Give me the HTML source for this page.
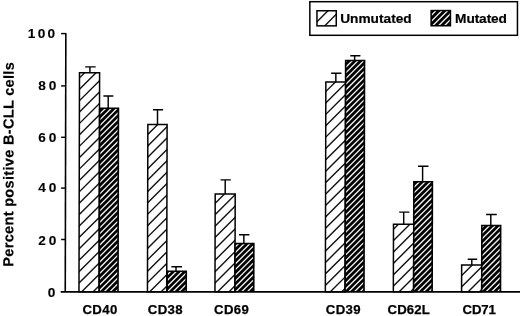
<!DOCTYPE html>
<html><head><meta charset="utf-8"><title>Percent positive B-CLL cells</title>
<style>
html,body{margin:0;padding:0;background:#fff;width:520px;height:316px;overflow:hidden}
svg{display:block;will-change:transform;filter:grayscale(1) blur(0.35px)}
text{font-family:"Liberation Sans",Arial,Helvetica,sans-serif;font-weight:bold;fill:#000}
.tk{font-size:12.4px;letter-spacing:2.6px;stroke:#000;stroke-width:0.1px}
.xl{font-size:13.2px;letter-spacing:0.35px;stroke:#000;stroke-width:0.25px}
.yl{font-size:14.5px;letter-spacing:0.33px;stroke:#000;stroke-width:0.2px}
.lg{font-size:13.7px;letter-spacing:0px;stroke:#000;stroke-width:0.2px}
</style></head><body>
<svg width="520" height="316" viewBox="0 0 520 316">
<defs>
<clipPath id="cCD40U"><rect x="79.50" y="72.65" width="20.10" height="219.20"/></clipPath>
<clipPath id="cCD40M"><rect x="100.45" y="109.05" width="17.15" height="182.00"/></clipPath>
<clipPath id="cCD38U"><rect x="147.85" y="124.50" width="19.25" height="167.35"/></clipPath>
<clipPath id="cCD38M"><rect x="167.95" y="272.00" width="17.45" height="19.05"/></clipPath>
<clipPath id="cCD69U"><rect x="215.20" y="194.05" width="20.00" height="97.80"/></clipPath>
<clipPath id="cCD69M"><rect x="235.85" y="244.35" width="17.15" height="46.70"/></clipPath>
<clipPath id="cCD39U"><rect x="325.85" y="82.10" width="19.75" height="209.75"/></clipPath>
<clipPath id="cCD39M"><rect x="346.45" y="61.25" width="17.25" height="229.80"/></clipPath>
<clipPath id="cCD62U"><rect x="393.50" y="224.35" width="20.30" height="67.50"/></clipPath>
<clipPath id="cCD62M"><rect x="414.65" y="182.40" width="16.90" height="108.65"/></clipPath>
<clipPath id="cCD71U"><rect x="461.65" y="264.90" width="20.15" height="26.95"/></clipPath>
<clipPath id="cCD71M"><rect x="482.65" y="226.20" width="17.15" height="64.85"/></clipPath>
<clipPath id="cLU"><rect x="316.95" y="10.75" width="19.3" height="15.1"/></clipPath>
<clipPath id="cLM"><rect x="431.9" y="11.2" width="17.8" height="13.8"/></clipPath>
</defs>
<rect width="520" height="316" fill="#fff"/>
<g transform="matrix(1 0 -0.0024 1 0.174 0)">
<rect x="79.50" y="72.65" width="20.10" height="219.20" fill="#fff"/>
<path clip-path="url(#cCD40U)" d="M77.50 57.10L101.60 33.00M77.50 68.50L101.60 44.40M77.50 79.90L101.60 55.80M77.50 91.30L101.60 67.20M77.50 102.70L101.60 78.60M77.50 114.10L101.60 90.00M77.50 125.50L101.60 101.40M77.50 136.90L101.60 112.80M77.50 148.30L101.60 124.20M77.50 159.70L101.60 135.60M77.50 171.10L101.60 147.00M77.50 182.50L101.60 158.40M77.50 193.90L101.60 169.80M77.50 205.30L101.60 181.20M77.50 216.70L101.60 192.60M77.50 228.10L101.60 204.00M77.50 239.50L101.60 215.40M77.50 250.90L101.60 226.80M77.50 262.30L101.60 238.20M77.50 273.70L101.60 249.60M77.50 285.10L101.60 261.00M77.50 296.50L101.60 272.40M77.50 307.90L101.60 283.80M77.50 319.30L101.60 295.20M77.50 330.70L101.60 306.60" stroke="#111" stroke-width="1.40" fill="none"/>
<rect x="79.50" y="72.65" width="20.10" height="219.20" fill="none" stroke="#000" stroke-width="1.50"/>
</g>
<path d="M89.90 72.65V66.85M85.20 66.85H95.70" stroke="#000" stroke-width="1.45" fill="none"/>
<g transform="matrix(1 0 -0.0024 1 0.260 0)">
<rect x="98.85" y="107.55" width="20.40" height="184.30" fill="#000"/>
<path clip-path="url(#cCD40M)" d="M98.45 104.10L119.60 82.95M98.45 109.80L119.60 88.65M98.45 115.50L119.60 94.35M98.45 121.20L119.60 100.05M98.45 126.90L119.60 105.75M98.45 132.60L119.60 111.45M98.45 138.30L119.60 117.15M98.45 144.00L119.60 122.85M98.45 149.70L119.60 128.55M98.45 155.40L119.60 134.25M98.45 161.10L119.60 139.95M98.45 166.80L119.60 145.65M98.45 172.50L119.60 151.35M98.45 178.20L119.60 157.05M98.45 183.90L119.60 162.75M98.45 189.60L119.60 168.45M98.45 195.30L119.60 174.15M98.45 201.00L119.60 179.85M98.45 206.70L119.60 185.55M98.45 212.40L119.60 191.25M98.45 218.10L119.60 196.95M98.45 223.80L119.60 202.65M98.45 229.50L119.60 208.35M98.45 235.20L119.60 214.05M98.45 240.90L119.60 219.75M98.45 246.60L119.60 225.45M98.45 252.30L119.60 231.15M98.45 258.00L119.60 236.85M98.45 263.70L119.60 242.55M98.45 269.40L119.60 248.25M98.45 275.10L119.60 253.95M98.45 280.80L119.60 259.65M98.45 286.50L119.60 265.35M98.45 292.20L119.60 271.05M98.45 297.90L119.60 276.75M98.45 303.60L119.60 282.45M98.45 309.30L119.60 288.15M98.45 315.00L119.60 293.85M98.45 320.70L119.60 299.55" stroke="#f6f6f6" stroke-width="1.30" fill="none"/>
</g>
<path d="M108.20 108.30V95.95M103.40 95.95H113.40" stroke="#000" stroke-width="1.45" fill="none"/>
<g transform="matrix(1 0 -0.0024 1 0.299 0)">
<rect x="147.85" y="124.50" width="19.25" height="167.35" fill="#fff"/>
<path clip-path="url(#cCD38U)" d="M145.85 113.65L169.10 90.40M145.85 125.05L169.10 101.80M145.85 136.45L169.10 113.20M145.85 147.85L169.10 124.60M145.85 159.25L169.10 136.00M145.85 170.65L169.10 147.40M145.85 182.05L169.10 158.80M145.85 193.45L169.10 170.20M145.85 204.85L169.10 181.60M145.85 216.25L169.10 193.00M145.85 227.65L169.10 204.40M145.85 239.05L169.10 215.80M145.85 250.45L169.10 227.20M145.85 261.85L169.10 238.60M145.85 273.25L169.10 250.00M145.85 284.65L169.10 261.40M145.85 296.05L169.10 272.80M145.85 307.45L169.10 284.20M145.85 318.85L169.10 295.60M145.85 330.25L169.10 307.00" stroke="#111" stroke-width="1.40" fill="none"/>
<rect x="147.85" y="124.50" width="19.25" height="167.35" fill="none" stroke="#000" stroke-width="1.50"/>
</g>
<path d="M157.50 124.50V109.80M153.00 109.80H163.10" stroke="#000" stroke-width="1.45" fill="none"/>
<g transform="matrix(1 0 -0.0024 1 0.651 0)">
<rect x="166.35" y="270.50" width="20.70" height="21.35" fill="#000"/>
<path clip-path="url(#cCD38M)" d="M165.95 264.75L187.40 243.30M165.95 270.45L187.40 249.00M165.95 276.15L187.40 254.70M165.95 281.85L187.40 260.40M165.95 287.55L187.40 266.10M165.95 293.25L187.40 271.80M165.95 298.95L187.40 277.50M165.95 304.65L187.40 283.20M165.95 310.35L187.40 288.90M165.95 316.05L187.40 294.60M165.95 321.75L187.40 300.30" stroke="#f6f6f6" stroke-width="1.30" fill="none"/>
</g>
<path d="M176.00 271.25V266.80M171.40 266.80H182.00" stroke="#000" stroke-width="1.45" fill="none"/>
<g transform="matrix(1 0 -0.0024 1 0.466 0)">
<rect x="215.20" y="194.05" width="20.00" height="97.80" fill="#fff"/>
<path clip-path="url(#cCD69U)" d="M213.20 182.45L237.20 158.45M213.20 193.85L237.20 169.85M213.20 205.25L237.20 181.25M213.20 216.65L237.20 192.65M213.20 228.05L237.20 204.05M213.20 239.45L237.20 215.45M213.20 250.85L237.20 226.85M213.20 262.25L237.20 238.25M213.20 273.65L237.20 249.65M213.20 285.05L237.20 261.05M213.20 296.45L237.20 272.45M213.20 307.85L237.20 283.85M213.20 319.25L237.20 295.25M213.20 330.65L237.20 306.65" stroke="#111" stroke-width="1.40" fill="none"/>
<rect x="215.20" y="194.05" width="20.00" height="97.80" fill="none" stroke="#000" stroke-width="1.50"/>
</g>
<path d="M225.20 194.05V179.85M220.50 179.85H230.80" stroke="#000" stroke-width="1.45" fill="none"/>
<g transform="matrix(1 0 -0.0024 1 0.585 0)">
<rect x="234.25" y="242.85" width="20.40" height="49.00" fill="#000"/>
<path clip-path="url(#cCD69M)" d="M233.85 236.95L255.00 215.80M233.85 242.65L255.00 221.50M233.85 248.35L255.00 227.20M233.85 254.05L255.00 232.90M233.85 259.75L255.00 238.60M233.85 265.45L255.00 244.30M233.85 271.15L255.00 250.00M233.85 276.85L255.00 255.70M233.85 282.55L255.00 261.40M233.85 288.25L255.00 267.10M233.85 293.95L255.00 272.80M233.85 299.65L255.00 278.50M233.85 305.35L255.00 284.20M233.85 311.05L255.00 289.90M233.85 316.75L255.00 295.60" stroke="#f6f6f6" stroke-width="1.30" fill="none"/>
</g>
<path d="M243.85 243.60V234.65M239.00 234.65H249.40" stroke="#000" stroke-width="1.45" fill="none"/>
<g transform="matrix(1 0 -0.0024 1 0.197 0)">
<rect x="325.85" y="82.10" width="19.75" height="209.75" fill="#fff"/>
<path clip-path="url(#cCD39U)" d="M323.85 70.75L347.60 47.00M323.85 82.15L347.60 58.40M323.85 93.55L347.60 69.80M323.85 104.95L347.60 81.20M323.85 116.35L347.60 92.60M323.85 127.75L347.60 104.00M323.85 139.15L347.60 115.40M323.85 150.55L347.60 126.80M323.85 161.95L347.60 138.20M323.85 173.35L347.60 149.60M323.85 184.75L347.60 161.00M323.85 196.15L347.60 172.40M323.85 207.55L347.60 183.80M323.85 218.95L347.60 195.20M323.85 230.35L347.60 206.60M323.85 241.75L347.60 218.00M323.85 253.15L347.60 229.40M323.85 264.55L347.60 240.80M323.85 275.95L347.60 252.20M323.85 287.35L347.60 263.60M323.85 298.75L347.60 275.00M323.85 310.15L347.60 286.40M323.85 321.55L347.60 297.80M323.85 332.95L347.60 309.20" stroke="#111" stroke-width="1.40" fill="none"/>
<rect x="325.85" y="82.10" width="19.75" height="209.75" fill="none" stroke="#000" stroke-width="1.50"/>
</g>
<path d="M335.85 82.10V73.20M331.10 73.20H341.40" stroke="#000" stroke-width="1.45" fill="none"/>
<g transform="matrix(1 0 -0.0024 1 0.145 0)">
<rect x="344.85" y="59.75" width="20.50" height="232.10" fill="#000"/>
<path clip-path="url(#cCD39M)" d="M344.45 57.15L365.70 35.90M344.45 62.85L365.70 41.60M344.45 68.55L365.70 47.30M344.45 74.25L365.70 53.00M344.45 79.95L365.70 58.70M344.45 85.65L365.70 64.40M344.45 91.35L365.70 70.10M344.45 97.05L365.70 75.80M344.45 102.75L365.70 81.50M344.45 108.45L365.70 87.20M344.45 114.15L365.70 92.90M344.45 119.85L365.70 98.60M344.45 125.55L365.70 104.30M344.45 131.25L365.70 110.00M344.45 136.95L365.70 115.70M344.45 142.65L365.70 121.40M344.45 148.35L365.70 127.10M344.45 154.05L365.70 132.80M344.45 159.75L365.70 138.50M344.45 165.45L365.70 144.20M344.45 171.15L365.70 149.90M344.45 176.85L365.70 155.60M344.45 182.55L365.70 161.30M344.45 188.25L365.70 167.00M344.45 193.95L365.70 172.70M344.45 199.65L365.70 178.40M344.45 205.35L365.70 184.10M344.45 211.05L365.70 189.80M344.45 216.75L365.70 195.50M344.45 222.45L365.70 201.20M344.45 228.15L365.70 206.90M344.45 233.85L365.70 212.60M344.45 239.55L365.70 218.30M344.45 245.25L365.70 224.00M344.45 250.95L365.70 229.70M344.45 256.65L365.70 235.40M344.45 262.35L365.70 241.10M344.45 268.05L365.70 246.80M344.45 273.75L365.70 252.50M344.45 279.45L365.70 258.20M344.45 285.15L365.70 263.90M344.45 290.85L365.70 269.60M344.45 296.55L365.70 275.30M344.45 302.25L365.70 281.00M344.45 307.95L365.70 286.70M344.45 313.65L365.70 292.40M344.45 319.35L365.70 298.10" stroke="#f6f6f6" stroke-width="1.30" fill="none"/>
</g>
<path d="M354.65 60.50V55.80M350.30 55.80H360.40" stroke="#000" stroke-width="1.45" fill="none"/>
<g transform="matrix(1 0 -0.0024 1 0.538 0)">
<rect x="393.50" y="224.35" width="20.30" height="67.50" fill="#fff"/>
<path clip-path="url(#cCD62U)" d="M391.50 208.40L415.80 184.10M391.50 219.80L415.80 195.50M391.50 231.20L415.80 206.90M391.50 242.60L415.80 218.30M391.50 254.00L415.80 229.70M391.50 265.40L415.80 241.10M391.50 276.80L415.80 252.50M391.50 288.20L415.80 263.90M391.50 299.60L415.80 275.30M391.50 311.00L415.80 286.70M391.50 322.40L415.80 298.10M391.50 333.80L415.80 309.50" stroke="#111" stroke-width="1.40" fill="none"/>
<rect x="393.50" y="224.35" width="20.30" height="67.50" fill="none" stroke="#000" stroke-width="1.50"/>
</g>
<path d="M403.70 224.35V212.10M399.20 212.10H409.40" stroke="#000" stroke-width="1.45" fill="none"/>
<g transform="matrix(1 0 -0.0024 1 0.436 0)">
<rect x="413.05" y="180.90" width="20.15" height="110.95" fill="#000"/>
<path clip-path="url(#cCD62M)" d="M412.65 177.20L433.55 156.30M412.65 182.90L433.55 162.00M412.65 188.60L433.55 167.70M412.65 194.30L433.55 173.40M412.65 200.00L433.55 179.10M412.65 205.70L433.55 184.80M412.65 211.40L433.55 190.50M412.65 217.10L433.55 196.20M412.65 222.80L433.55 201.90M412.65 228.50L433.55 207.60M412.65 234.20L433.55 213.30M412.65 239.90L433.55 219.00M412.65 245.60L433.55 224.70M412.65 251.30L433.55 230.40M412.65 257.00L433.55 236.10M412.65 262.70L433.55 241.80M412.65 268.40L433.55 247.50M412.65 274.10L433.55 253.20M412.65 279.80L433.55 258.90M412.65 285.50L433.55 264.60M412.65 291.20L433.55 270.30M412.65 296.90L433.55 276.00M412.65 302.60L433.55 281.70M412.65 308.30L433.55 287.40M412.65 314.00L433.55 293.10M412.65 319.70L433.55 298.80" stroke="#f6f6f6" stroke-width="1.30" fill="none"/>
</g>
<path d="M422.60 181.65V166.20M418.00 166.20H428.50" stroke="#000" stroke-width="1.45" fill="none"/>
<g transform="matrix(1 0 -0.0024 1 0.636 0)">
<rect x="461.65" y="264.90" width="20.15" height="26.95" fill="#fff"/>
<path clip-path="url(#cCD71U)" d="M459.65 254.75L483.80 230.60M459.65 266.15L483.80 242.00M459.65 277.55L483.80 253.40M459.65 288.95L483.80 264.80M459.65 300.35L483.80 276.20M459.65 311.75L483.80 287.60M459.65 323.15L483.80 299.00M459.65 334.55L483.80 310.40" stroke="#111" stroke-width="1.40" fill="none"/>
<rect x="461.65" y="264.90" width="20.15" height="26.95" fill="none" stroke="#000" stroke-width="1.50"/>
</g>
<path d="M471.80 264.90V259.20M467.70 259.20H477.20" stroke="#000" stroke-width="1.45" fill="none"/>
<g transform="matrix(1 0 -0.0024 1 0.541 0)">
<rect x="481.05" y="224.70" width="20.40" height="67.15" fill="#000"/>
<path clip-path="url(#cCD71M)" d="M480.65 217.45L501.80 196.30M480.65 223.15L501.80 202.00M480.65 228.85L501.80 207.70M480.65 234.55L501.80 213.40M480.65 240.25L501.80 219.10M480.65 245.95L501.80 224.80M480.65 251.65L501.80 230.50M480.65 257.35L501.80 236.20M480.65 263.05L501.80 241.90M480.65 268.75L501.80 247.60M480.65 274.45L501.80 253.30M480.65 280.15L501.80 259.00M480.65 285.85L501.80 264.70M480.65 291.55L501.80 270.40M480.65 297.25L501.80 276.10M480.65 302.95L501.80 281.80M480.65 308.65L501.80 287.50M480.65 314.35L501.80 293.20M480.65 320.05L501.80 298.90" stroke="#f6f6f6" stroke-width="1.30" fill="none"/>
</g>
<path d="M490.80 225.45V214.45M486.10 214.45H496.80" stroke="#000" stroke-width="1.45" fill="none"/>
<path d="M65.85 32.9L65.25 292" stroke="#000" stroke-width="1.6" fill="none"/>
<path d="M60.7 291.85H520" stroke="#000" stroke-width="1.9" fill="none"/>
<path d="M61.1 33.60H66" stroke="#000" stroke-width="1.45" fill="none"/>
<path d="M61.1 85.90H66" stroke="#000" stroke-width="1.45" fill="none"/>
<path d="M61.1 137.30H66" stroke="#000" stroke-width="1.45" fill="none"/>
<path d="M61.1 188.10H66" stroke="#000" stroke-width="1.45" fill="none"/>
<path d="M61.1 239.50H66" stroke="#000" stroke-width="1.45" fill="none"/>
<text class="tk" style="letter-spacing:2.15px" transform="translate(27.70 37.50) scale(1.1 1)">100</text>
<text class="tk" transform="translate(38.30 89.80) scale(1.1 1)">80</text>
<text class="tk" transform="translate(38.20 141.60) scale(1.1 1)">60</text>
<text class="tk" transform="translate(38.20 192.20) scale(1.1 1)">40</text>
<text class="tk" transform="translate(38.20 244.70) scale(1.1 1)">20</text>
<text class="tk" transform="translate(47.80 297.40) scale(1.1 1)">0</text>
<text class="xl" x="82.50" y="314">CD40</text>
<text class="xl" x="147.80" y="314">CD38</text>
<text class="xl" x="214.10" y="314">CD69</text>
<text class="xl" x="325.80" y="314">CD39</text>
<text class="xl" style="letter-spacing:0.1px" x="387.60" y="314">CD62L</text>
<text class="xl" style="letter-spacing:-0.2px" x="462.60" y="314">CD71</text>
<text class="yl" transform="translate(13.2 266.7) rotate(-89.85)" x="0" y="0">Percent positive B-CLL cells</text>
<rect x="309.85" y="1.7" width="207.6" height="33.6" fill="#fff" stroke="#000" stroke-width="1.5"/>
<rect x="316.95" y="10.75" width="19.3" height="15.1" fill="#fff"/>
<path clip-path="url(#cLU)" d="M314.95 -0.05L338.25 -23.35M314.95 11.85L338.25 -11.45M314.95 23.75L338.25 0.45M314.95 35.65L338.25 12.35M314.95 47.55L338.25 24.25M314.95 59.45L338.25 36.15" stroke="#111" stroke-width="1.40" fill="none"/>
<rect x="316.95" y="10.75" width="19.3" height="15.1" fill="none" stroke="#000" stroke-width="1.5"/>
<text class="lg" x="340.2" y="22.75">Unmutated</text>
<rect x="430.35" y="9.8" width="20.85" height="16.7" fill="#000"/>
<path clip-path="url(#cLM)" d="M429.90 5.10L451.70 -16.70M429.90 10.95L451.70 -10.85M429.90 16.80L451.70 -5.00M429.90 22.65L451.70 0.85M429.90 28.50L451.70 6.70M429.90 34.35L451.70 12.55M429.90 40.20L451.70 18.40M429.90 46.05L451.70 24.25M429.90 51.90L451.70 30.10" stroke="#f6f6f6" stroke-width="1.30" fill="none"/>
<text class="lg" style="letter-spacing:-0.1px" x="455.1" y="22.75">Mutated</text>
</svg>
</body></html>
